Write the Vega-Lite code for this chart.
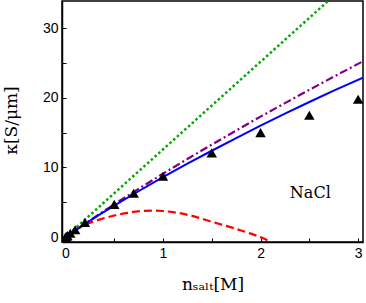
{
  "$schema": "https://vega.github.io/schema/vega-lite/v6.json",
  "width": 301,
  "height": 241,
  "autosize": {"type": "none"},
  "padding": {"left": 62, "top": 1, "right": 3, "bottom": 61},
  "background": "white",
  "config": {
    "view": {"stroke": "black", "strokeWidth": 1.5},
    "axis": {
      "domainColor": "black", "domainWidth": 1.5,
      "tickColor": "black", "tickWidth": 1, "tickSize": -4,
      "grid": false,
      "labelFont": "Liberation Sans", "labelFontSize": 14, "labelColor": "black",
      "titleFont": "DejaVu Serif", "titleFontSize": 17, "titleFontWeight": "normal", "titleColor": "black"
    }
  },
  "datasets": {
    "green": [{"x": 0, "y": 0}, {"x": 3.05, "y": 38.4}],
    "blue": [
      {"x": 0, "y": 0}, {"x": 0.05, "y": 0.49}, {"x": 0.1, "y": 0.96}, {"x": 0.2, "y": 1.88},
      {"x": 0.35, "y": 3.22}, {"x": 0.5, "y": 4.51}, {"x": 0.7, "y": 6.19}, {"x": 1.0, "y": 8.6},
      {"x": 1.25, "y": 10.54}, {"x": 1.5, "y": 12.4}, {"x": 1.75, "y": 14.22}, {"x": 2.0, "y": 16.0},
      {"x": 2.25, "y": 17.72}, {"x": 2.5, "y": 19.4}, {"x": 2.75, "y": 21.03}, {"x": 3.05, "y": 22.9}
    ],
    "purple": [
      {"x": 0, "y": 0}, {"x": 0.05, "y": 0.5}, {"x": 0.1, "y": 0.98}, {"x": 0.2, "y": 1.94},
      {"x": 0.5, "y": 4.71}, {"x": 0.75, "y": 6.93}, {"x": 1.0, "y": 9.1}, {"x": 1.25, "y": 11.22},
      {"x": 1.5, "y": 13.28}, {"x": 1.75, "y": 15.3}, {"x": 2.0, "y": 17.3}, {"x": 2.25, "y": 19.24},
      {"x": 2.5, "y": 21.15}, {"x": 2.75, "y": 23.03}, {"x": 3.05, "y": 25.25}
    ],
    "red": [
      {"x": 0, "y": 0}, {"x": 0.05, "y": 0.55}, {"x": 0.1, "y": 1.0}, {"x": 0.2, "y": 1.8},
      {"x": 0.3, "y": 2.3}, {"x": 0.4, "y": 2.75}, {"x": 0.5, "y": 3.1}, {"x": 0.6, "y": 3.4},
      {"x": 0.7, "y": 3.62}, {"x": 0.8, "y": 3.78}, {"x": 0.9, "y": 3.82}, {"x": 1.0, "y": 3.75},
      {"x": 1.1, "y": 3.6}, {"x": 1.2, "y": 3.37}, {"x": 1.3, "y": 3.05}, {"x": 1.4, "y": 2.65},
      {"x": 1.5, "y": 2.2}, {"x": 1.6, "y": 1.8}, {"x": 1.7, "y": 1.4}, {"x": 1.8, "y": 0.95},
      {"x": 1.9, "y": 0.5}, {"x": 2.0, "y": 0.0}, {"x": 2.05, "y": -0.3}, {"x": 2.1, "y": -0.7}
    ],
    "exp": [
      {"x": 0.0, "y": 0.0}, {"x": 0.01, "y": 0.11}, {"x": 0.02, "y": 0.22}, {"x": 0.05, "y": 0.55},
      {"x": 0.1, "y": 1.07}, {"x": 0.2, "y": 2.1}, {"x": 0.5, "y": 4.7}, {"x": 0.7, "y": 6.3},
      {"x": 1.0, "y": 8.75}, {"x": 1.5, "y": 12.1}, {"x": 2.0, "y": 15.0}, {"x": 2.5, "y": 17.5},
      {"x": 3.0, "y": 19.8}
    ],
    "label": [{"x": 2.51, "y": 6.3, "text": "NaCl"}]
  },
  "encoding": {
    "x": {
      "field": "x", "type": "quantitative",
      "scale": {"domain": [-0.035, 3.05], "nice": false, "zero": false},
      "axis": {
        "values": [0, 0.5, 1, 1.5, 2, 2.5, 3],
        "labelExpr": "datum.value % 1 === 0 ? format(datum.value, 'd') : ''",
        "labelPadding": 8, "title": "nₛₐₗₜ[M]", "titlePadding": 16
      }
    },
    "y": {
      "field": "y", "type": "quantitative",
      "scale": {"domain": [-0.7, 33.9], "nice": false, "zero": false},
      "axis": {
        "values": [0, 5, 10, 15, 20, 25, 30],
        "labelExpr": "datum.value % 10 === 0 ? datum.label : ''",
        "labelPadding": 8, "title": "κ[S/μm]",
        "titleAngle": -90, "titleAlign": "center", "titleBaseline": "alphabetic",
        "titleX": -46, "titleY": 119
      }
    }
  },
  "layer": [
    {"data": {"name": "green"}, "mark": {"type": "line", "color": "#00aa00", "strokeWidth": 2.5, "strokeDash": [2.5, 2.5], "clip": true}},
    {"data": {"name": "red"}, "mark": {"type": "line", "color": "#ff0000", "strokeWidth": 2.2, "strokeDash": [8, 4], "clip": true}},
    {"data": {"name": "purple"}, "mark": {"type": "line", "color": "#800080", "strokeWidth": 2.2, "strokeDash": [8, 3, 2, 3], "clip": true}},
    {"data": {"name": "blue"}, "mark": {"type": "line", "color": "#0000ff", "strokeWidth": 2, "clip": true}},
    {"data": {"name": "exp"}, "mark": {"type": "point", "shape": "triangle-up", "filled": true, "color": "black", "opacity": 1, "size": 110, "clip": true}},
    {"data": {"name": "label"}, "mark": {"type": "text", "font": "DejaVu Serif", "fontSize": 16, "color": "black"}, "encoding": {"text": {"field": "text"}}}
  ]
}
